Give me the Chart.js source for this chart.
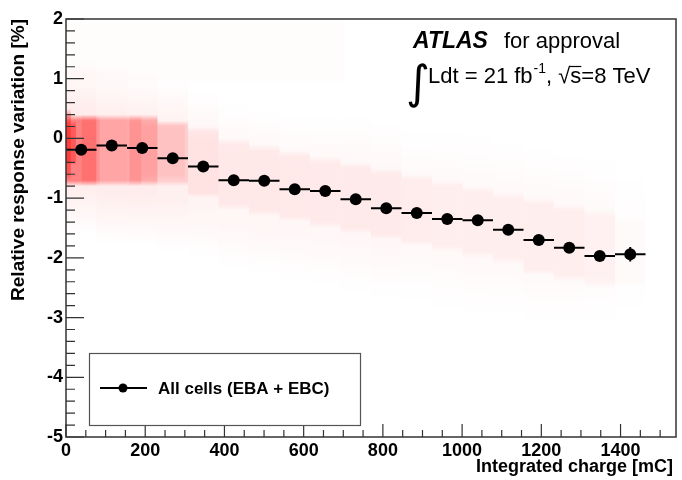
<!DOCTYPE html>
<html>
<head>
<meta charset="utf-8">
<script src="https://cdn.jsdelivr.net/npm/chart.js@4.4.0/dist/chart.umd.min.js"></script>
<style>
  html, body { margin: 0; padding: 0; background: #fff; }
  #chart { display: block; }
</style>
</head>
<body>
<canvas id="chart" width="682" height="480"></canvas>
<script>
// profile: bin centres [mC], mean response variation [%] and its error
const binCenters = [38.5, 115.5, 192.5, 269.5, 346.5, 423.5, 500.5, 577.5, 654.5, 731.5,
  808.5, 885.5, 962.5, 1039.5, 1116.5, 1193.5, 1270.5, 1347.5, 1424.5];
const meanVariation = [-0.19, -0.12, -0.16, -0.33, -0.47, -0.70, -0.71, -0.85, -0.88, -1.02,
  -1.17, -1.25, -1.35, -1.37, -1.53, -1.70, -1.83, -1.97, -1.94];
const meanError = [0.04, 0.03, 0.03, 0.03, 0.03, 0.03, 0.03, 0.03, 0.03, 0.04,
  0.04, 0.04, 0.05, 0.05, 0.05, 0.06, 0.06, 0.07, 0.12];
const binHalfWidth = 38.5;

const xTicks = [0, 200, 400, 600, 800, 1000, 1200, 1400];
const yTicks = [2, 1, 0, -1, -2, -3, -4, -5];

// per-cell scatter cloud, read as density bands per 77 mC column
const cloudEdges = [0, 77, 154, 231, 308, 385, 462, 539, 616, 693, 770,
  847, 924, 1001, 1078, 1155, 1232, 1309, 1386, 1463, 1540];
const haloLow = [-1.6, -1.8, -1.8, -1.9, -2.0, -2.2, -2.3, -2.4, -2.5, -2.6,
  -2.7, -2.8, -2.9, -3.0, -3.0, -3.1, -3.1, -3.1, -3.0, 0];
const haloHigh = [1.3, 1.2, 1.1, 1.0, 0.8, 0.6, 0.5, 0.4, 0.4, 0.4,
  0.3, 0.2, 0.2, 0.1, 0.0, -0.1, -0.2, -0.3, -0.5, 0];
const haloDensity = [0.08, 0.07, 0.07, 0.06, 0.045, 0.035, 0.035, 0.03, 0.03, 0.03,
  0.03, 0.025, 0.025, 0.025, 0.025, 0.025, 0.025, 0.02, 0.008, 0];
const coreLow = [-0.8, -0.8, -0.8, -0.8, -1.0, -1.2, -1.3, -1.4, -1.5, -1.6,
  -1.7, -1.8, -1.9, -2.0, -2.1, -2.3, -2.4, -2.5, -2.5, 0];
const coreHigh = [0.4, 0.4, 0.4, 0.3, 0.2, 0.0, -0.1, -0.2, -0.3, -0.4,
  -0.5, -0.6, -0.7, -0.8, -0.9, -1.0, -1.1, -1.2, -1.3, 0];
const coreDensity = [0.45, 0.3, 0.28, 0.14, 0.07, 0.055, 0.055, 0.055, 0.05, 0.05,
  0.05, 0.05, 0.045, 0.045, 0.045, 0.045, 0.045, 0.035, 0.012, 0];
// extra dense stripes [x0, x1, yLow, yHigh, density]
const cloudStripes = [
  [0, 700, 0.9, 2.0, 0.012],
  [0, 12, -0.7, 0.5, 0.35],
  [0, 25, -0.45, 0.3, 0.3],
  [40, 85, -0.8, 0.4, 0.12],
  [160, 190, -0.8, 0.4, 0.14],
  [190, 300, -0.7, 0.3, 0.06]
];

const FONT = '"Liberation Sans", Arial, Helvetica, sans-serif';

function band(ctx, xs, ys, x0, x1, lo, hi, d, ramp) {
  if (d <= 0) return;
  const px0 = xs.getPixelForValue(x0), px1 = xs.getPixelForValue(x1);
  const pyT = ys.getPixelForValue(hi), pyB = ys.getPixelForValue(lo);
  const g = ctx.createLinearGradient(0, pyT, 0, pyB);
  const c = 'rgba(255,0,0,' + d + ')';
  g.addColorStop(0, 'rgba(255,0,0,0)');
  g.addColorStop(ramp, c);
  g.addColorStop(1 - ramp, c);
  g.addColorStop(1, 'rgba(255,0,0,0)');
  ctx.fillStyle = g;
  ctx.fillRect(px0, pyT, px1 - px0, pyB - pyT);
}

const cloudPlugin = {
  id: 'cloud',
  beforeDatasetsDraw(chart) {
    const ctx = chart.ctx, xs = chart.scales.x, ys = chart.scales.y;
    const a = chart.chartArea;
    ctx.save();
    ctx.beginPath();
    ctx.rect(a.left, a.top, a.right - a.left, a.bottom - a.top);
    ctx.clip();
    for (let i = 0; i < haloLow.length; i++) {
      band(ctx, xs, ys, cloudEdges[i], cloudEdges[i + 1], haloLow[i], haloHigh[i], haloDensity[i], 0.3);
      band(ctx, xs, ys, cloudEdges[i], cloudEdges[i + 1], coreLow[i], coreHigh[i], coreDensity[i], 0.08);
    }
    cloudStripes.forEach(s => band(ctx, xs, ys, s[0], s[1], s[2], s[3], s[4], 0.1));

    // error bars
    ctx.strokeStyle = '#000';
    ctx.lineWidth = 2;
    binCenters.forEach((x, i) => {
      const y = meanVariation[i];
      const py = ys.getPixelForValue(y);
      ctx.beginPath();
      ctx.moveTo(xs.getPixelForValue(x - binHalfWidth), py);
      ctx.lineTo(xs.getPixelForValue(x + binHalfWidth), py);
      ctx.moveTo(xs.getPixelForValue(x), ys.getPixelForValue(y - meanError[i]));
      ctx.lineTo(xs.getPixelForValue(x), ys.getPixelForValue(y + meanError[i]));
      ctx.stroke();
    });
    ctx.restore();
  },
  afterDraw(chart) {
    const ctx = chart.ctx, xs = chart.scales.x, ys = chart.scales.y;
    const a = chart.chartArea;
    ctx.save();
    // frame
    ctx.strokeStyle = '#333';
    ctx.lineWidth = 1.5;
    ctx.strokeRect(a.left, a.top, a.right - a.left, a.bottom - a.top);
    // ticks (inside)
    ctx.lineWidth = 1.2;
    ctx.beginPath();
    for (let v = 0; v <= 1500; v += 50) {
      const px = xs.getPixelForValue(v);
      const len = v % 200 === 0 ? 13 : 7;
      ctx.moveTo(px, a.bottom);
      ctx.lineTo(px, a.bottom - len);
    }
    for (let k = 0; k <= 35; k++) {
      const v = -5 + k * 0.2;
      const py = ys.getPixelForValue(v);
      const len = k % 5 === 0 ? 18 : 9;
      ctx.moveTo(a.left, py);
      ctx.lineTo(a.left + len, py);
    }
    ctx.stroke();

    // axis titles
    ctx.fillStyle = '#000';
    ctx.font = 'bold 18px ' + FONT;
    ctx.textAlign = 'right';
    ctx.textBaseline = 'alphabetic';
    ctx.fillText('Integrated charge [mC]', 673, 472);
    ctx.save();
    ctx.translate(24, 19);
    ctx.rotate(-Math.PI / 2);
    ctx.font = 'bold 19px ' + FONT;
    ctx.fillText('Relative response variation [%]', 0, 0);
    ctx.restore();

    // legend
    ctx.fillStyle = '#fff';
    ctx.fillRect(89, 353, 271, 72);
    ctx.strokeStyle = '#555';
    ctx.lineWidth = 1.2;
    ctx.strokeRect(89.5, 353.5, 271, 72);
    ctx.strokeStyle = '#000';
    ctx.lineWidth = 2;
    ctx.beginPath();
    ctx.moveTo(100, 388);
    ctx.lineTo(147, 388);
    ctx.stroke();
    ctx.fillStyle = '#000';
    ctx.beginPath();
    ctx.arc(123, 388, 4.5, 0, Math.PI * 2);
    ctx.fill();
    ctx.font = 'bold 17px ' + FONT;
    ctx.textAlign = 'left';
    ctx.fillText('All cells (EBA + EBC)', 158, 394);

    // ATLAS label
    let x = 413;
    ctx.font = 'italic bold 23px ' + FONT;
    ctx.fillText('ATLAS', x, 48);
    ctx.font = '22px ' + FONT;
    ctx.fillText('for approval', 504, 48);
    ctx.font = '46px "DejaVu Sans", sans-serif';
    ctx.fillText('\u222B', 406, 98);
    x = 428;
    ctx.font = '22px ' + FONT;
    ctx.fillText('Ldt = 21 fb', x, 83);
    x += ctx.measureText('Ldt = 21 fb').width;
    ctx.font = '14px ' + FONT;
    ctx.fillText('-1', x + 1, 73);
    x += ctx.measureText('-1').width + 1;
    ctx.font = '22px ' + FONT;
    ctx.fillText(', \u221A', x, 83);
    x += ctx.measureText(', \u221A').width;
    const sw = ctx.measureText('s').width;
    ctx.fillText('s', x, 83);
    ctx.lineWidth = 1.2;
    ctx.beginPath();
    ctx.moveTo(x - 1, 66.5);
    ctx.lineTo(x + sw, 66.5);
    ctx.stroke();
    x += sw;
    ctx.fillText('=8 TeV', x, 83);
    ctx.restore();
  }
};

const points = binCenters.map((x, i) => ({ x: x, y: meanVariation[i] }));

new Chart(document.getElementById('chart'), {
  type: 'scatter',
  data: {
    datasets: [{
      label: 'All cells (EBA + EBC)',
      data: points,
      pointRadius: 6,
      pointHoverRadius: 6,
      backgroundColor: '#000',
      borderWidth: 0
    }]
  },
  options: {
    responsive: false,
    devicePixelRatio: 1,
    animation: false,
    events: [],
    layout: { padding: { top: 19, right: 2, left: 0, bottom: 0 } },
    plugins: { legend: { display: false }, tooltip: { enabled: false } },
    scales: {
      x: {
        type: 'linear',
        min: 0,
        max: 1540,
        afterBuildTicks: (axis) => { axis.ticks = xTicks.map(v => ({ value: v })); },
        afterFit: (axis) => { axis.height = 43; },
        grid: { display: false, drawTicks: false },
        border: { display: false },
        ticks: { autoSkip: false, maxRotation: 0, padding: 3, color: '#000',
          callback: (v) => String(v),
          font: { family: FONT, size: 18, weight: 'bold' } }
      },
      y: {
        type: 'linear',
        min: -5,
        max: 2,
        afterBuildTicks: (axis) => { axis.ticks = yTicks.map(v => ({ value: v })); },
        afterFit: (axis) => { axis.width = 66; },
        grid: { display: false, drawTicks: false },
        border: { display: false },
        ticks: { autoSkip: false, padding: 3, color: '#000',
          callback: (v) => String(v),
          font: { family: FONT, size: 18, weight: 'bold' } }
      }
    }
  },
  plugins: [cloudPlugin]
});
</script>
</body>
</html>
